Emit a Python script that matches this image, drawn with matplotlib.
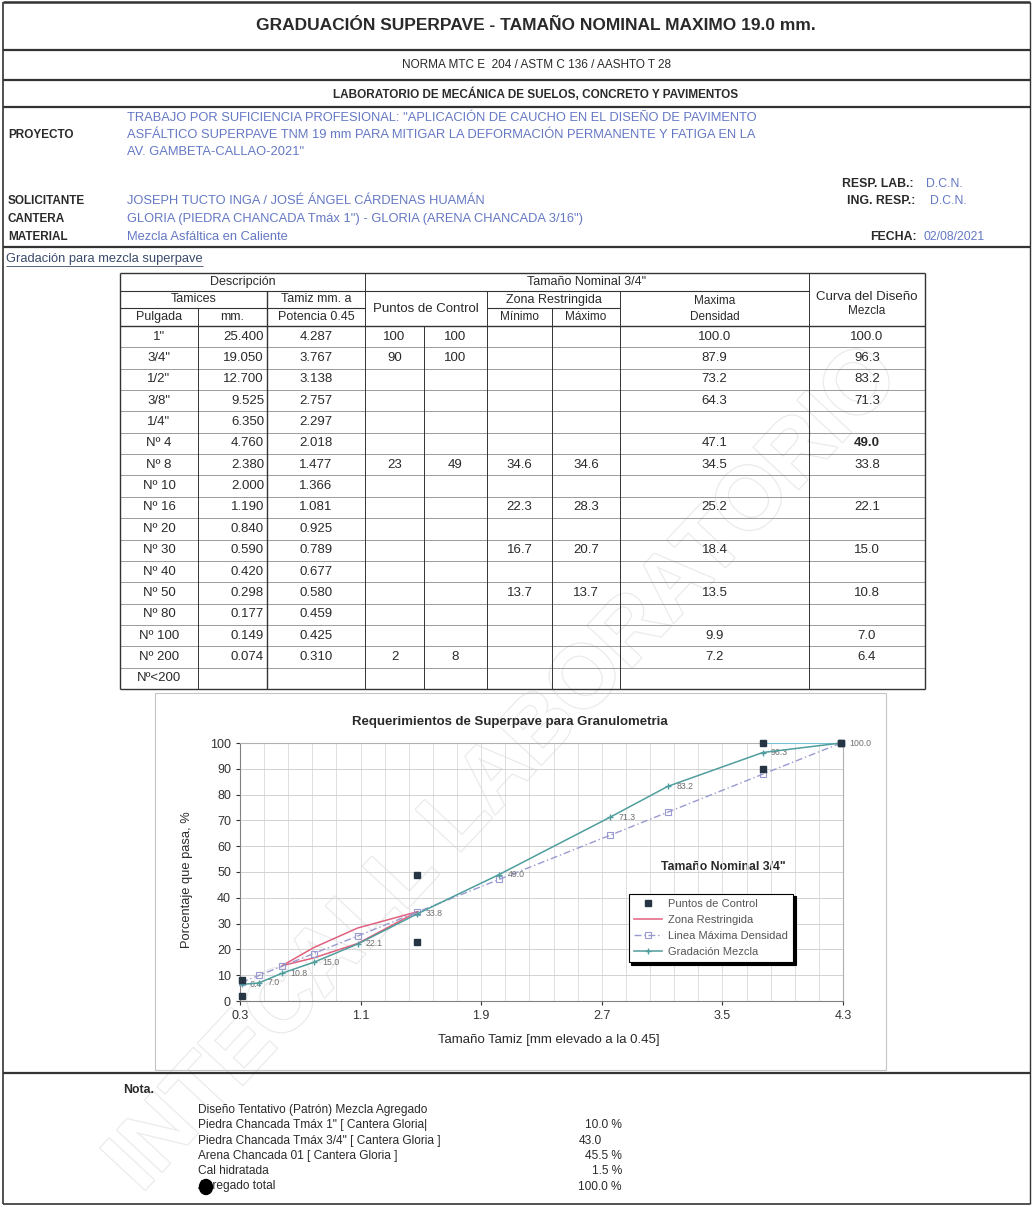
import numpy as np
import matplotlib
matplotlib.use("Agg")
import matplotlib.pyplot as plt
from matplotlib import font_manager
from matplotlib.lines import Line2D
from matplotlib.patches import Rectangle, Ellipse
import matplotlib.patheffects as pe

plt.rcParams['font.family'] = ['Liberation Sans', 'DejaVu Sans']

W, H = 1033, 1207

# ---------------- data ----------------
pulgada = ['1"', '3/4"', '1/2"', '3/8"', '1/4"', 'Nº 4', 'Nº 8', 'Nº 10', 'Nº 16',
           'Nº 20', 'Nº 30', 'Nº 40', 'Nº 50', 'Nº 80', 'Nº 100', 'Nº 200', 'Nº<200']
tamiz_mm = [25.400, 19.050, 12.700, 9.525, 6.350, 4.760, 2.380, 2.000, 1.190,
            0.840, 0.590, 0.420, 0.298, 0.177, 0.149, 0.074, None]
potencia = [4.287, 3.767, 3.138, 2.757, 2.297, 2.018, 1.477, 1.366, 1.081,
            0.925, 0.789, 0.677, 0.580, 0.459, 0.425, 0.310, None]
ctrl_min = [100, 90, None, None, None, None, 23, None, None,
            None, None, None, None, None, None, 2, None]
ctrl_max = [100, 100, None, None, None, None, 49, None, None,
            None, None, None, None, None, None, 8, None]
zona_min = [None, None, None, None, None, None, 34.6, None, 22.3,
            None, 16.7, None, 13.7, None, None, None, None]
zona_max = [None, None, None, None, None, None, 34.6, None, 28.3,
            None, 20.7, None, 13.7, None, None, None, None]
max_dens = [100.0, 87.9, 73.2, 64.3, None, 47.1, 34.5, None, 25.2,
            None, 18.4, None, 13.5, None, 9.9, 7.2, None]
curva = [100.0, 96.3, 83.2, 71.3, None, 49.0, 33.8, None, 22.1,
         None, 15.0, None, 10.8, None, 7.0, 6.4, None]

proyecto = ['TRABAJO POR SUFICIENCIA PROFESIONAL: "APLICACIÓN DE CAUCHO EN EL DISEÑO DE PAVIMENTO',
            'ASFÁLTICO SUPERPAVE TNM 19 mm PARA MITIGAR LA DEFORMACIÓN PERMANENTE Y FATIGA EN LA',
            'AV. GAMBETA-CALLAO-2021"']
info_labels = ['SOLICITANTE', 'CANTERA', 'MATERIAL']
info_values = ['JOSEPH TUCTO INGA / JOSÉ ÁNGEL CÁRDENAS HUAMÁN',
               'GLORIA (PIEDRA CHANCADA Tmáx 1") - GLORIA (ARENA CHANCADA 3/16")',
               'Mezcla Asfáltica en Caliente']

nota_items = ['Diseño Tentativo (Patrón) Mezcla Agregado',
              'Piedra Chancada Tmáx 1" [ Cantera Gloria|',
              'Piedra Chancada Tmáx 3/4" [ Cantera Gloria ]',
              'Arena Chancada 01 [ Cantera Gloria ]',
              'Cal hidratada',
              'Agregado total']
nota_values = ['', '10.0 %', '43.0', '45.5 %', '1.5 %', '100.0 %']

BLUE = '#6478c4'
INK = '#2a2a2a'

# narrow font for the headline if the system has it
try:
    font_manager.findfont('Liberation Sans Narrow', fallback_to_default=False)
    NARROW = ['Liberation Sans Narrow', 'Liberation Sans']
    TSIZE = 14.5
except ValueError:
    NARROW = ['Liberation Sans', 'DejaVu Sans']
    TSIZE = 12.5

fig = plt.figure(figsize=(W / 100, H / 100), dpi=100)
bg = fig.add_axes([0, 0, 1, 1])
bg.set_xlim(0, W)
bg.set_ylim(H, 0)
bg.axis('off')


def txt(x, y, s, size=8.0, ha='left', weight='normal', color=INK, **kw):
    return bg.text(x, y, s, fontsize=size, ha=ha, va='center', fontweight=weight,
                   color=color, **kw)


def hl(y, x0, x1, lw=0.7, color='#333333'):
    bg.plot([x0, x1], [y, y], color=color, lw=lw, solid_capstyle='butt')


def vl(x, y0, y1, lw=0.7, color='#333333'):
    bg.plot([x, x], [y0, y1], color=color, lw=lw, solid_capstyle='butt')


# watermark
bg.text(505, 770, 'INTECALL LABORATORIO', fontsize=64, fontweight='bold', color='white',
        rotation=47, ha='center', va='center', zorder=0,
        path_effects=[pe.withStroke(linewidth=1.8, foreground='#ebebeb')])

# ---------------- frame & header ----------------
L, R = 3, 1030
hl(2, L, R, lw=1.8)
hl(1204, L, R, lw=1.2)
vl(L, 2, 1204, lw=1.2)
vl(R, 2, 1204, lw=1.0)
for yy in [50, 80, 107, 247, 1073]:
    hl(yy, L, R, lw=1.6)

mid = 536
txt(mid, 25, 'GRADUACIÓN SUPERPAVE - TAMAÑO NOMINAL MAXIMO 19.0 mm.', size=TSIZE,
    ha='center', weight='bold', family=NARROW)
txt(mid, 65, 'NORMA MTC E  204 / ASTM C 136 / AASHTO T 28', size=8.5, ha='center')
txt(mid, 94, 'LABORATORIO DE MECÁNICA DE SUELOS, CONCRETO Y PAVIMENTOS', size=8.5,
    ha='center', weight='bold')

txt(8, 135, 'PROYECTO', size=8.5, weight='bold')
for i, line in enumerate(proyecto):
    txt(127, 118 + 17 * i, line, size=9.3, color=BLUE)
for i, (lab, val) in enumerate(zip(info_labels, info_values)):
    txt(8, 201 + 18 * i, lab, size=8.5, weight='bold')
    txt(127, 201 + 18 * i, val, size=9.3, color=BLUE)

txt(842, 184, 'RESP. LAB.:', size=8.8, weight='bold')
txt(926, 184, 'D.C.N.', size=8.8, color=BLUE)
txt(847, 201, 'ING. RESP.:', size=8.8, weight='bold')
txt(930, 201, 'D.C.N.', size=8.8, color=BLUE)
txt(870, 237, 'FECHA:', size=8.8, weight='bold')
txt(924, 237, '02/08/2021', size=8.8, color=BLUE)

g = txt(6, 259, 'Gradación para mezcla superpave', size=9.3, color='#3b4a6b')
fig.canvas.draw()
bb = g.get_window_extent().transformed(bg.transData.inverted())
hl(266, bb.x0, bb.x1, lw=0.6, color='#3b4a6b')

# ---------------- table ----------------
cx = [120, 198, 267, 365, 424, 487, 552, 620, 809, 925]
top, r1, r2, r3 = 273, 291, 308, 326
nrows = len(pulgada)
rh = (689 - r3) / nrows
tsz = 9.5

hl(top, cx[0], cx[-1], lw=1.0)
hl(r1, cx[0], cx[8], lw=0.8)
hl(r2, cx[0], cx[3], lw=0.8)
hl(r2, cx[5], cx[7], lw=0.8)
hl(r3, cx[0], cx[-1], lw=1.0)
bottom = r3 + rh * nrows
for i in range(1, nrows):
    hl(r3 + rh * i, cx[0], cx[-1], lw=0.6, color='#8c8c8c')
hl(bottom, cx[0], cx[-1], lw=1.0)
vl(cx[0], top, bottom, lw=1.0)
vl(cx[-1], top, bottom, lw=1.0)
vl(cx[1], r2, bottom)
vl(cx[2], r1, bottom, lw=1.0)
vl(cx[3], top, bottom)
vl(cx[4], r3, bottom)
vl(cx[5], r1, bottom)
vl(cx[6], r2, bottom)
vl(cx[7], r1, bottom)
vl(cx[8], top, bottom)

c = lambda a, b: (cx[a] + cx[b]) / 2
txt(c(0, 3), (top + r1) / 2, 'Descripción', size=tsz - 0.5, ha='center')
txt(c(3, 8), (top + r1) / 2, 'Tamaño Nominal 3/4"', size=tsz - 0.5, ha='center')
txt(c(0, 2), (r1 + r2) / 2, 'Tamices', size=tsz - 0.5, ha='center')
txt(c(2, 3), (r1 + r2) / 2, 'Tamiz mm. a', size=tsz - 0.5, ha='center')
txt(c(0, 1), (r2 + r3) / 2, 'Pulgada', size=tsz - 0.5, ha='center')
txt(c(1, 2), (r2 + r3) / 2, 'mm.', size=tsz - 0.5, ha='center')
txt(c(2, 3), (r2 + r3) / 2, 'Potencia 0.45', size=tsz - 0.5, ha='center')
txt(c(3, 5), (r1 + r3) / 2, 'Puntos de Control', size=tsz, ha='center')
txt(c(5, 7), (r1 + r2) / 2, 'Zona Restringida', size=tsz - 0.5, ha='center')
txt(c(5, 6), (r2 + r3) / 2, 'Mínimo', size=tsz - 1, ha='center')
txt(c(6, 7), (r2 + r3) / 2, 'Máximo', size=tsz - 1, ha='center')
txt(c(7, 8), (r1 + r2) / 2 + 1, 'Maxima', size=tsz - 1, ha='center')
txt(c(7, 8), (r2 + r3) / 2, 'Densidad', size=tsz - 1, ha='center')
txt(c(8, 9), 297, 'Curva del Diseño', size=tsz, ha='center')
txt(c(8, 9), 311, 'Mezcla', size=tsz - 1, ha='center')


def fmt(v, d):
    return '' if v is None else f'{v:.{d}f}'


for i in range(nrows):
    y = r3 + rh * (i + 0.5)
    txt(c(0, 1), y, pulgada[i], size=tsz, ha='center')
    txt(cx[2] - 3, y, fmt(tamiz_mm[i], 3), size=tsz, ha='right')
    txt(c(2, 3), y, fmt(potencia[i], 3), size=tsz, ha='center')
    txt(c(3, 4), y, fmt(ctrl_min[i], 0), size=tsz, ha='center')
    txt(c(4, 5), y, fmt(ctrl_max[i], 0), size=tsz, ha='center')
    txt(c(5, 6), y, fmt(zona_min[i], 1), size=tsz, ha='center')
    txt(c(6, 7), y, fmt(zona_max[i], 1), size=tsz, ha='center')
    txt(c(7, 8), y, fmt(max_dens[i], 1), size=tsz, ha='center')
    txt(c(8, 9), y, fmt(curva[i], 1), size=tsz, ha='center',
        weight='bold' if pulgada[i] == 'Nº 4' else 'normal')

# ---------------- chart ----------------
bg.add_patch(Rectangle((155, 693), 886 - 155, 1070 - 693, fill=False,
                       ec='#c4c4c4', lw=0.8))
txt(510, 722, 'Requerimientos de Superpave para Granulometria', size=9.5,
    ha='center', weight='bold')

ax = fig.add_axes([240 / W, 1 - 1001 / H, (843 - 240) / W, (1001 - 743) / H])
ax.set_facecolor('none')
ax.set_xlim(0.3, 4.3)
ax.set_ylim(0, 100)
ax.set_xticks(np.round(np.arange(0.3, 4.31, 0.8), 1))
ax.set_xticks(np.arange(0.3, 4.31, 0.16), minor=True)
ax.set_yticks(np.arange(0, 101, 10))
ax.xaxis.set_major_formatter(plt.FuncFormatter(lambda v, p: f'{v:.1f}'))
ax.grid(which='both', axis='x', color='#dedede', lw=0.7)
ax.grid(which='major', axis='y', color='#d2d2d2', lw=0.7)
ax.tick_params(which='both', labelsize=9, colors='#333333', length=3)
ax.tick_params(which='minor', length=0)
for s in ax.spines.values():
    s.set_color('#b0b0b0')
    s.set_linewidth(0.8)
ax.spines['left'].set_color('#808080')
ax.spines['bottom'].set_color('#808080')

C_CTRL, C_ZONA, C_MAXD, C_CURV, C_TOP = '#263544', '#e0607e', '#9a9ad2', '#4f9d9d', '#6cc6e0'

xs_cm = [p for p, v in zip(potencia, ctrl_min) if v is not None]
ax.plot([xs_cm[0], xs_cm[1]], [ctrl_max[0], ctrl_max[1]], color=C_TOP, lw=1.2, zorder=3)
for vals in (ctrl_min, ctrl_max):
    pts = [(p, v) for p, v in zip(potencia, vals) if v is not None]
    ax.plot(*zip(*pts), ls='none', marker='s', ms=4, color=C_CTRL, zorder=5, clip_on=False)

for vals in (zona_min, zona_max):
    pts = [(p, v) for p, v in zip(potencia, vals) if v is not None]
    ax.plot(*zip(*pts), color=C_ZONA, lw=1.1, zorder=3)

pts = [(p, v) for p, v in zip(potencia, max_dens) if v is not None]
ax.plot(*zip(*pts), color=C_MAXD, lw=1.0, ls=(0, (5, 2, 1, 2)), marker='s', ms=4,
        mfc='none', mew=0.8, zorder=3, clip_on=False)

pts = [(p, v) for p, v in zip(potencia, curva) if v is not None]
ax.plot(*zip(*pts), color=C_CURV, lw=1.1, marker='+', ms=4, zorder=4, clip_on=False)
for p, v in pts:
    ax.annotate(f'{v:.1f}', (p, v), xytext=(6, 0), textcoords='offset points',
                fontsize=6.3, color='#6e6e6e', va='center', annotation_clip=False)

txt(549, 1040, 'Tamaño Tamiz [mm elevado a la 0.45]', size=9.5, ha='center')
bg.text(187, 880, 'Porcentaje que pasa, %', fontsize=9.3, rotation=90, ha='center',
        va='center', color=INK)

handles = [Line2D([], [], ls='none', marker='s', ms=4, color=C_CTRL),
           Line2D([], [], color=C_ZONA, lw=1.1),
           Line2D([], [], color=C_MAXD, lw=1.0, ls=(0, (5, 2, 1, 2)), marker='s', ms=4,
                  mfc='none', mew=0.8),
           Line2D([], [], color=C_CURV, lw=1.1, marker='+', ms=4)]
labels = ['Puntos de Control', 'Zona Restringida', 'Linea Máxima Densidad', 'Gradación Mezcla']
leg = ax.legend(handles, labels, loc='upper left', bbox_to_anchor=(623 / W, 1 - 888 / H),
                bbox_transform=fig.transFigure, fontsize=8, frameon=True, fancybox=False,
                edgecolor='black', framealpha=1, borderpad=0.45, labelspacing=0.55,
                handlelength=2.6, handletextpad=0.5,
                shadow={'color': 'black', 'alpha': 1, 'ox': 2, 'oy': -2})
for t in leg.get_texts():
    t.set_color('#555555')
leg.get_frame().set_linewidth(0.8)
txt(723, 867, 'Tamaño Nominal 3/4"', size=8.8, ha='center', weight='bold')

# ---------------- nota ----------------
txt(123, 1090, 'Nota.', size=8.8, weight='bold')
for i, (item, val) in enumerate(zip(nota_items, nota_values)):
    y = 1110 + 15.3 * i
    txt(198, y, item, size=8.6)
    if val.endswith('%'):
        txt(622, y, val, size=8.6, ha='right')
    elif val:
        txt(579, y, val, size=8.6)
bg.add_patch(Ellipse((206, 1187), 13, 15, color='black', zorder=5))

fig.savefig('out.png', dpi=100)
